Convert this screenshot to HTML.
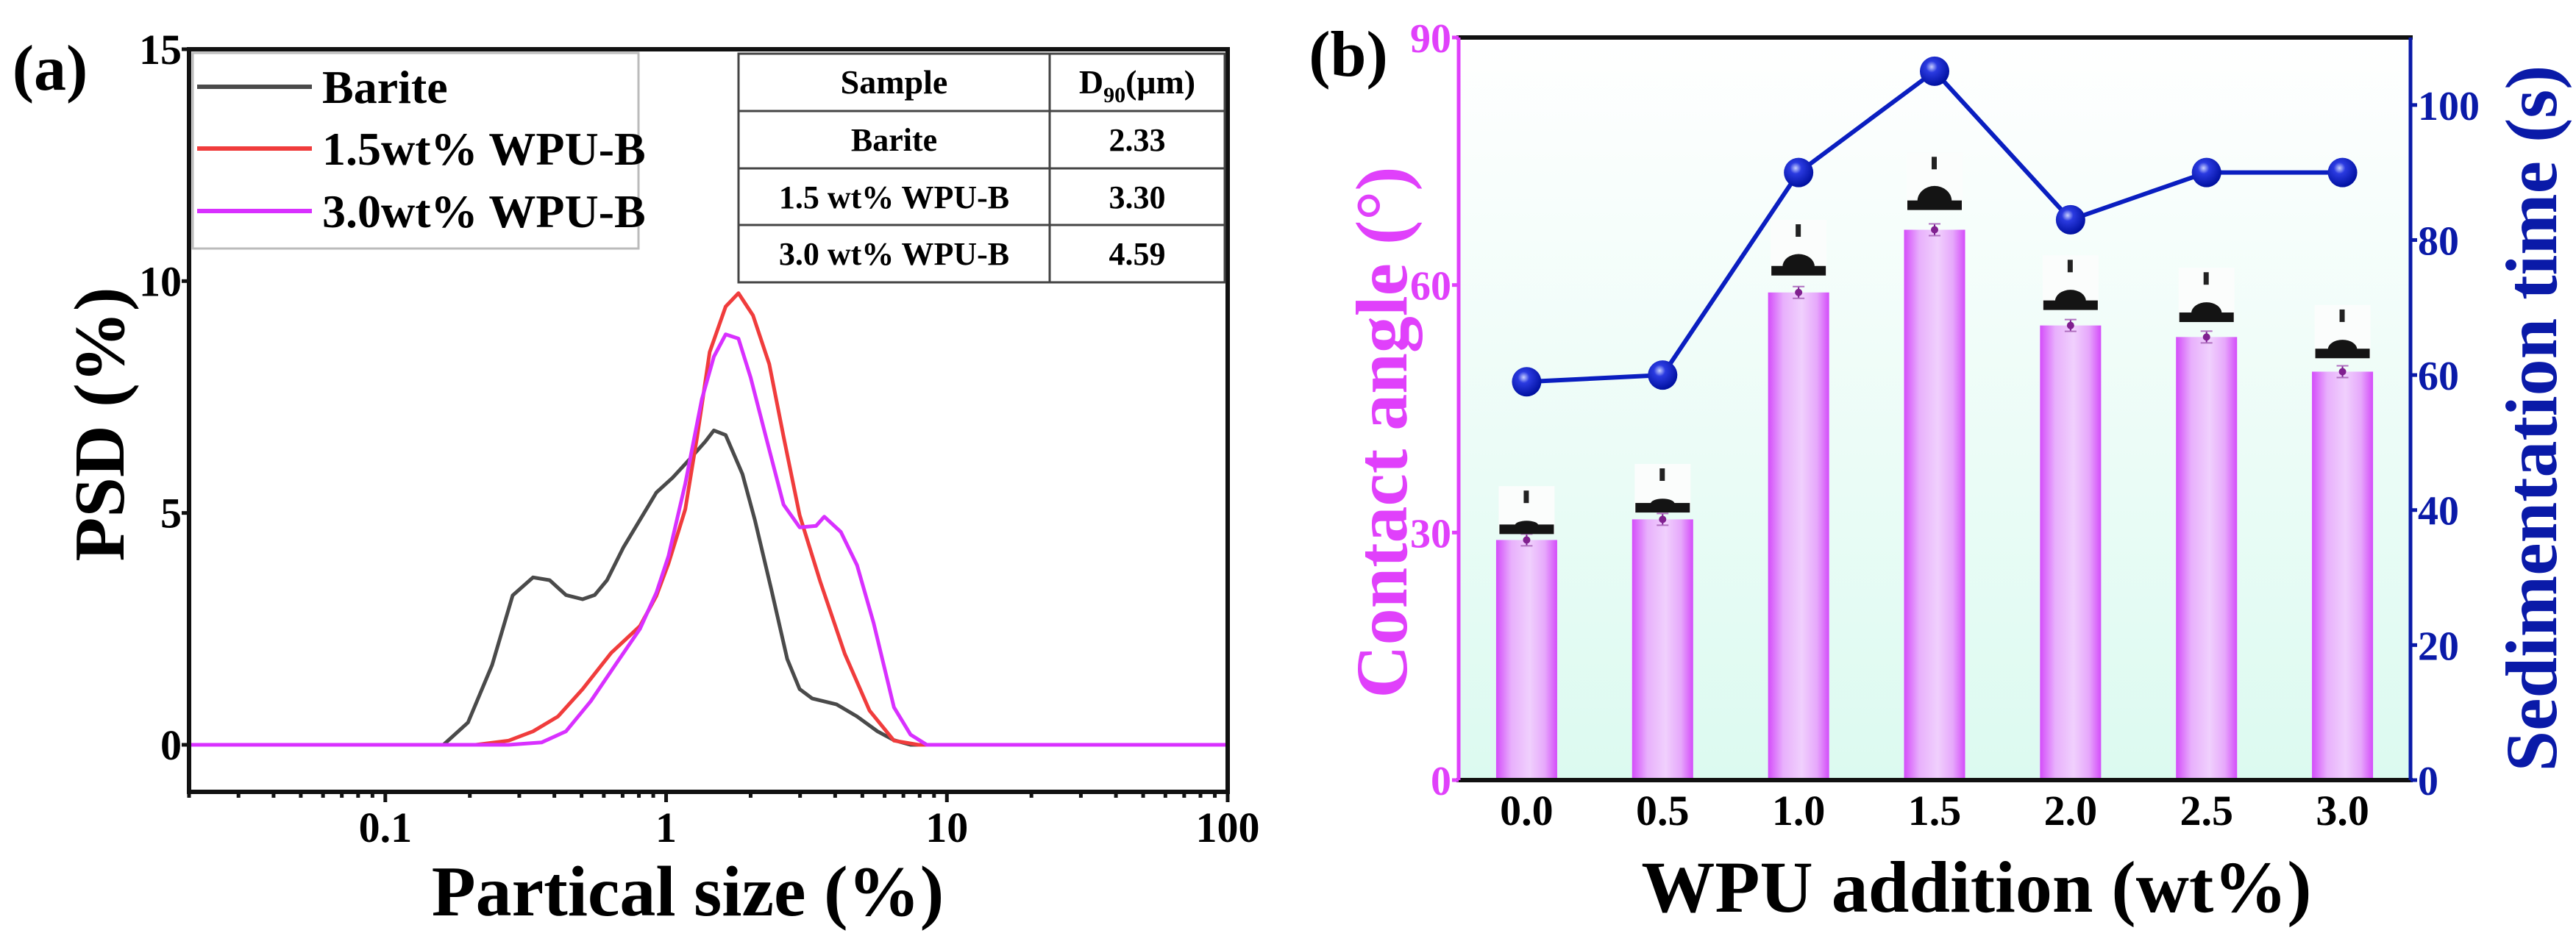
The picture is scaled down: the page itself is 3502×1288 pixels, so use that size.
<!DOCTYPE html>
<html><head><meta charset="utf-8"><style>
html,body{margin:0;padding:0;background:#fff;}
svg{display:block;}
text{font-family:"Liberation Serif","DejaVu Serif",serif;font-weight:bold;}
</style></head><body>
<svg id="fig" width="3502" height="1288" viewBox="0 0 3502 1288" xmlns="http://www.w3.org/2000/svg" font-family="Liberation Serif, serif">
<defs>
<linearGradient id="bgGrad" x1="0" y1="0" x2="0" y2="1"><stop offset="0" stop-color="#ffffff"/><stop offset="1" stop-color="#dcfaf0"/></linearGradient>
<linearGradient id="barGrad" x1="0" y1="0" x2="1" y2="0"><stop offset="0" stop-color="#d44cfa"/><stop offset="0.25" stop-color="#e8b0fc"/><stop offset="0.55" stop-color="#f0d0fd"/><stop offset="0.8" stop-color="#e6a8fb"/><stop offset="1" stop-color="#d44cfa"/></linearGradient>
<radialGradient id="ballGrad" cx="0.4" cy="0.35" r="0.65"><stop offset="0" stop-color="#c8d0ff"/><stop offset="0.3" stop-color="#2a3ae0"/><stop offset="1" stop-color="#0010a0"/></radialGradient>
</defs>
<g id="panelA"></g>
<g id="panelB"></g>
</svg>
<script>
// ---------- Panel (a) data ----------
const baritesSize = [0.161,0.197,0.240,0.284,0.336,0.385,0.440,0.504,0.557,0.616,0.705,0.807,0.923,1.055,1.21,1.38,1.48,1.63,1.87,2.07,2.37,2.70,2.99,3.31,4.05,4.79,5.66,6.48,7.42];
const baritePsd = [0,0.48,1.72,3.22,3.61,3.55,3.23,3.14,3.23,3.55,4.26,4.85,5.44,5.76,6.15,6.54,6.78,6.68,5.84,4.85,3.35,1.85,1.20,1.00,0.87,0.61,0.29,0.10,0];
const wpu15Size = [0.210,0.275,0.336,0.412,0.504,0.637,0.807,0.923,1.02,1.17,1.29,1.43,1.63,1.81,2.04,2.33,2.62,2.99,3.54,4.33,5.30,6.48,7.93];
const wpu15Psd = [0,0.09,0.29,0.61,1.20,1.98,2.56,3.21,3.91,5.08,6.65,8.47,9.45,9.74,9.26,8.21,6.65,4.95,3.52,1.96,0.74,0.09,0];
const wpu30Size = [0.275,0.360,0.440,0.539,0.659,0.807,0.923,1.02,1.17,1.34,1.48,1.63,1.81,2.00,2.29,2.62,2.99,3.42,3.66,4.19,4.79,5.48,6.48,7.42,8.48];
const wpu30Psd = [0,0.05,0.29,0.94,1.72,2.50,3.28,4.07,5.63,7.45,8.37,8.85,8.76,7.92,6.54,5.18,4.69,4.72,4.92,4.59,3.87,2.63,0.81,0.22,0];
const psdYTicks = [0,5,10,15];
const sizeXTicks = [0.1,1,10,100];
const sizeXTickLabels = ["0.1","1","10","100"];
const tableSamples = ["Barite","1.5 wt% WPU-B","3.0 wt% WPU-B"];
const tableD90 = ["2.33","3.30","4.59"];

// ---------- Panel (b) data ----------
const wpuCategories = ["0.0","0.5","1.0","1.5","2.0","2.5","3.0"];
const contactAngle = [29.1,31.6,59.1,66.7,55.1,53.7,49.5];
const sedimentTime = [59,60,90,105,83,90,90];
const angleTicks = [0,30,60,90];
const timeTicks = [0,20,40,60,80,100];

const NS="http://www.w3.org/2000/svg";
function mk(parent,tag,attrs,txt){const e=document.createElementNS(NS,tag);for(const k in attrs)e.setAttribute(k,attrs[k]);if(txt!==undefined)e.textContent=txt;parent.appendChild(e);return e;}

// ===== Panel A =====
const A=document.getElementById('panelA');
const aL=257,aR=1669,aT=67,aB=1077;
const xMinLog=Math.log10(0.02),xMaxLog=2;
function ax(v){return aL+(Math.log10(v)-xMinLog)/(xMaxLog-xMinLog)*(aR-aL);}
function ay(v){return 1013-v*63.07;}

let t;
t=mk(A,'text',{x:68,y:122,'font-size':88,'text-anchor':'middle'},'(a)');



function curve(sizes,vals,color,name){
  let pts=[[ax(0.02),ay(0)]];
  for(let i=0;i<sizes.length;i++)pts.push([ax(sizes[i]),ay(vals[i])]);
  pts.push([ax(100),ay(0)]);
  const p=mk(A,'polyline',{points:pts.map(p=>p[0].toFixed(1)+','+p[1].toFixed(1)).join(' '),fill:'none',stroke:color,'stroke-width':5,'stroke-linejoin':'round'});
  
  
}
curve(baritesSize,baritePsd,'#4a4a4a','barite-curve');
curve(wpu15Size,wpu15Psd,'#f03c3c','wpu-1-5-curve');
curve(wpu30Size,wpu30Psd,'#d830ff','wpu-3-0-curve');

t=mk(A,'rect',{x:aL,y:aT,width:aR-aL,height:aB-aT,fill:'none',stroke:'#111','stroke-width':6});



psdYTicks.forEach(v=>{
  mk(A,'line',{x1:aL-10,x2:aL,y1:ay(v),y2:ay(v),stroke:'#111','stroke-width':5});
  const l=mk(A,'text',{x:aL-10,y:ay(v)+20,'font-size':58,'text-anchor':'end'},String(v));
  
  
});
for(let d=-2;d<=1;d++){for(let m=1;m<=9;m++){const v=m*Math.pow(10,d);if(v<0.02||v>100)continue;
  mk(A,'line',{x1:ax(v),x2:ax(v),y1:aB,y2:aB+(m===1?14:8),stroke:'#111','stroke-width':5});}}
mk(A,'line',{x1:ax(100),x2:ax(100),y1:aB,y2:aB+14,stroke:'#111','stroke-width':5});
sizeXTicks.forEach((v,i)=>{
  const l=mk(A,'text',{x:ax(v),y:1145,'font-size':58,'text-anchor':'middle'},sizeXTickLabels[i]);
  
  
});
t=mk(A,'text',{x:935,y:1245,'font-size':98,'text-anchor':'middle'},'Partical size (%)');


t=mk(A,'text',{x:0,y:0,'font-size':98,'text-anchor':'middle',transform:'translate(168,577) rotate(-90)'},'PSD (%)');



const lg=mk(A,'g',{});


mk(lg,'rect',{x:262,y:72,width:606,height:266,fill:'#fff',stroke:'#bbb','stroke-width':3});
[['Barite','#4a4a4a',118],['1.5wt% WPU-B','#f03c3c',202],['3.0wt% WPU-B','#d830ff',287]].forEach(e=>{
  const g=mk(lg,'g',{});
  
  
  mk(g,'line',{x1:268,x2:424,y1:e[2],y2:e[2],stroke:e[1],'stroke-width':6});
  mk(g,'text',{x:438,y:e[2]+22,'font-size':64},e[0]);
});

const tb=mk(A,'g',{});


const tx0=1004,tx1=1427,tx2=1665,rows=[73,151,229,306,384];
mk(tb,'rect',{x:tx0,y:rows[0],width:tx2-tx0,height:rows[4]-rows[0],fill:'#fff',stroke:'#444','stroke-width':3});
mk(tb,'line',{x1:tx1,x2:tx1,y1:rows[0],y2:rows[4],stroke:'#444','stroke-width':3});
for(let i=1;i<4;i++)mk(tb,'line',{x1:tx0,x2:tx2,y1:rows[i],y2:rows[i],stroke:'#444','stroke-width':3});
mk(tb,'text',{x:(tx0+tx1)/2,y:127,'font-size':46,'text-anchor':'middle'},'Sample');
const hd=mk(tb,'text',{x:(tx1+tx2)/2,y:127,'font-size':46,'text-anchor':'middle'});
mk(hd,'tspan',{},'D');mk(hd,'tspan',{'font-size':30,dy:12},'90');mk(hd,'tspan',{dy:-12},'(μm)');
tableSamples.forEach((s,i)=>{
  const yy=rows[i+1]+54;
  const c1=mk(tb,'text',{x:(tx0+tx1)/2,y:yy,'font-size':44,'text-anchor':'middle'},s);
  
  
  const c2=mk(tb,'text',{x:(tx1+tx2)/2,y:yy,'font-size':44,'text-anchor':'middle'},tableD90[i]);
  
  
});

// ===== Panel B =====
const B=document.getElementById('panelB');
const bL=1983,bR=3277,bT=51,bB=1061;
const slot=(bR-bL)/wpuCategories.length;
function bx(i){return bL+slot*(i+0.5);}
function byL(v){return bB-v/90*(bB-bT);}
function byR(v){return bB-v/110*(bB-bT);}

t=mk(B,'text',{x:1833,y:103,'font-size':88,'text-anchor':'middle'},'(b)');


t=mk(B,'rect',{x:bL,y:bT,width:bR-bL,height:bB-bT,fill:'url(#bgGrad)'});



const bw=83;
contactAngle.forEach((v,i)=>{
  const x=bx(i),top=byL(v);
  const r=mk(B,'rect',{x:x-bw/2,y:top,width:bw,height:bB-top,fill:'url(#barGrad)'});
  
  
  mk(B,'line',{x1:x,x2:x,y1:top-8,y2:top+8,stroke:'#7a1a90','stroke-width':2});
  mk(B,'line',{x1:x-8,x2:x+8,y1:top-8,y2:top-8,stroke:'#b070c0','stroke-width':2});
  mk(B,'line',{x1:x-8,x2:x+8,y1:top+8,y2:top+8,stroke:'#b070c0','stroke-width':2});
  mk(B,'circle',{cx:x,cy:top,r:5,fill:'#80208f'});
  const g=mk(B,'g',{});
  
  
  const gap=8+Math.max(0,(v-29))*0.5;
  const base=top-gap;
  const dr=10+v*0.2;
  const hgt=Math.max(4,dr*(v/75));
  const boxH=55+v*0.35;
  mk(g,'rect',{x:x-38,y:base-boxH,width:76,height:boxH,fill:'#fbfdfc'});
  mk(g,'rect',{x:x-37,y:base-13,width:74,height:13,fill:'#141414'});
  mk(g,'path',{d:`M${x-dr},${base-12} A${dr},${hgt} 0 0 1 ${x+dr},${base-12} Z`,fill:'#141414'});
  mk(g,'rect',{x:x-4,y:base-boxH+6,width:7,height:17,fill:'#222'});
});

const pts=sedimentTime.map((v,i)=>bx(i).toFixed(1)+','+byR(v).toFixed(1)).join(' ');
t=mk(B,'polyline',{points:pts,fill:'none',stroke:'#0a1ec0','stroke-width':6,'stroke-linejoin':'round'});


sedimentTime.forEach((v,i)=>{
  const c=mk(B,'circle',{cx:bx(i),cy:byR(v),r:20,fill:'url(#ballGrad)'});
  
  
});

mk(B,'line',{x1:bL-3,x2:bR+3,y1:bT,y2:bT,stroke:'#111','stroke-width':6});
mk(B,'line',{x1:bL-3,x2:bR+3,y1:bB,y2:bB,stroke:'#111','stroke-width':6});
t=mk(B,'line',{x1:bL,x2:bL,y1:bT,y2:bB,stroke:'#e040fb','stroke-width':5});


t=mk(B,'line',{x1:bR,x2:bR,y1:bT,y2:bB,stroke:'#0a1aa8','stroke-width':5});


angleTicks.forEach(v=>{
  mk(B,'line',{x1:bL-9,x2:bL,y1:byL(v),y2:byL(v),stroke:'#e040fb','stroke-width':5});
  const l=mk(B,'text',{x:bL-10,y:byL(v)+20,'font-size':56,'text-anchor':'end',fill:'#e040fb'},String(v));
  
  
});
timeTicks.forEach(v=>{
  mk(B,'line',{x1:bR,x2:bR+9,y1:byR(v),y2:byR(v),stroke:'#0a1aa8','stroke-width':5});
  const l=mk(B,'text',{x:bR+10,y:byR(v)+20,'font-size':56,fill:'#0a1aa8'},String(v));
  
  
});
wpuCategories.forEach((c,i)=>{
  const l=mk(B,'text',{x:bx(i),y:1122,'font-size':58,'text-anchor':'middle'},c);
  
  
});
t=mk(B,'text',{x:2687,y:1240,'font-size':100,'text-anchor':'middle'},'WPU addition (wt%)');


t=mk(B,'text',{x:0,y:0,'font-size':100,'text-anchor':'middle',fill:'#e040fb',transform:'translate(1912,588) rotate(-90)'},'Contact angle (°)');


t=mk(B,'text',{x:0,y:0,'font-size':100,'text-anchor':'middle',fill:'#0a1aa8',transform:'translate(3475,569) rotate(-90)'},'Sedimentation time (s)');


</script>
</body></html>
